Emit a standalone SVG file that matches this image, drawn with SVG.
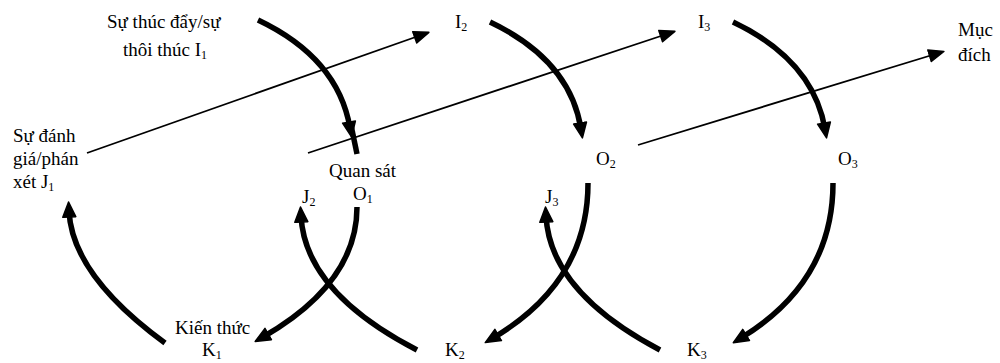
<svg xmlns="http://www.w3.org/2000/svg" width="1000" height="363" viewBox="0 0 1000 363">
<defs>
<marker id="ah" markerUnits="userSpaceOnUse" markerWidth="18" markerHeight="16" viewBox="0 0 18 16" refX="7" refY="8" orient="auto">
<path d="M1,1.5 L16,8 L1,14.5 Z" fill="#000" stroke="#000" stroke-width="1.5" stroke-linejoin="round"/>
</marker>
<marker id="ahs" markerUnits="userSpaceOnUse" markerWidth="18" markerHeight="16" viewBox="0 0 18 16" refX="14" refY="8" orient="auto">
<path d="M1,2 L16,8 L1,14 Z" fill="#000" stroke="#000" stroke-width="1.5" stroke-linejoin="round"/>
</marker>
</defs>
<style>
text{font-family:"Liberation Serif","Times New Roman",serif;font-size:19px;fill:#000}
.sub{font-size:12px}
.thick{fill:none;stroke:#000;stroke-width:5.5;marker-end:url(#ah)}
.thin{fill:none;stroke:#000;stroke-width:1.8;marker-end:url(#ahs)}
</style>
<rect width="1000" height="363" fill="#fff"/>
<g id="connectors">
<path class="thin" d="M87,153 L427,33"/>
<path class="thin" d="M308,153 L673,32"/>
<path class="thin" d="M638,145 L942,52"/>
<path class="thick" d="M258,20 Q338,58 350,128"/>
<path d="M351,125 L357,154" fill="none" stroke="#000" stroke-width="5.5"/>
<path class="thick" d="M490,22 Q570,60 581,129"/>
<path class="thick" d="M733,22 Q813,60 825,129"/>
<path class="thick" d="M357,207 Q357,283 263,337"/>
<path class="thick" d="M588,183 Q588,282 493,338"/>
<path class="thick" d="M833,183 Q833,282 741,338"/>
<path class="thick" d="M165,343 Q72,275 69,211"/>
<path class="thick" d="M417,350 Q305,292 301,216"/>
<path class="thick" d="M660,350 Q550,292 546,216"/>
</g>
<g id="I1"><text x="107" y="28">Sự thúc đẩy/sự</text><text x="123" y="56">thôi thúc I<tspan class="sub" dy="3">1</tspan></text></g>
<g id="J1"><text x="13" y="142">Sự đánh</text><text x="13" y="165">giá/phán</text><text x="13" y="188">xét J<tspan class="sub" dy="3">1</tspan></text></g>
<g id="O1"><text x="329" y="177">Quan sát</text><text x="353" y="200">O<tspan class="sub" dy="3">1</tspan></text></g>
<g id="J2"><text x="302" y="203">J<tspan class="sub" dy="3">2</tspan></text></g>
<g id="K1"><text x="175" y="334">Kiến thức</text><text x="202" y="356">K<tspan class="sub" dy="3">1</tspan></text></g>
<g id="K2"><text x="445" y="356">K<tspan class="sub" dy="3">2</tspan></text></g>
<g id="K3"><text x="687" y="356">K<tspan class="sub" dy="3">3</tspan></text></g>
<g id="I2"><text x="455" y="28">I<tspan class="sub" dy="3">2</tspan></text></g>
<g id="I3"><text x="698" y="28">I<tspan class="sub" dy="3">3</tspan></text></g>
<g id="O2"><text x="596" y="165">O<tspan class="sub" dy="3">2</tspan></text></g>
<g id="O3"><text x="838" y="165">O<tspan class="sub" dy="3">3</tspan></text></g>
<g id="J3"><text x="545" y="203">J<tspan class="sub" dy="3">3</tspan></text></g>
<g id="goal"><text x="958" y="36">Mục</text><text x="958" y="61">đích</text></g>
</svg>
